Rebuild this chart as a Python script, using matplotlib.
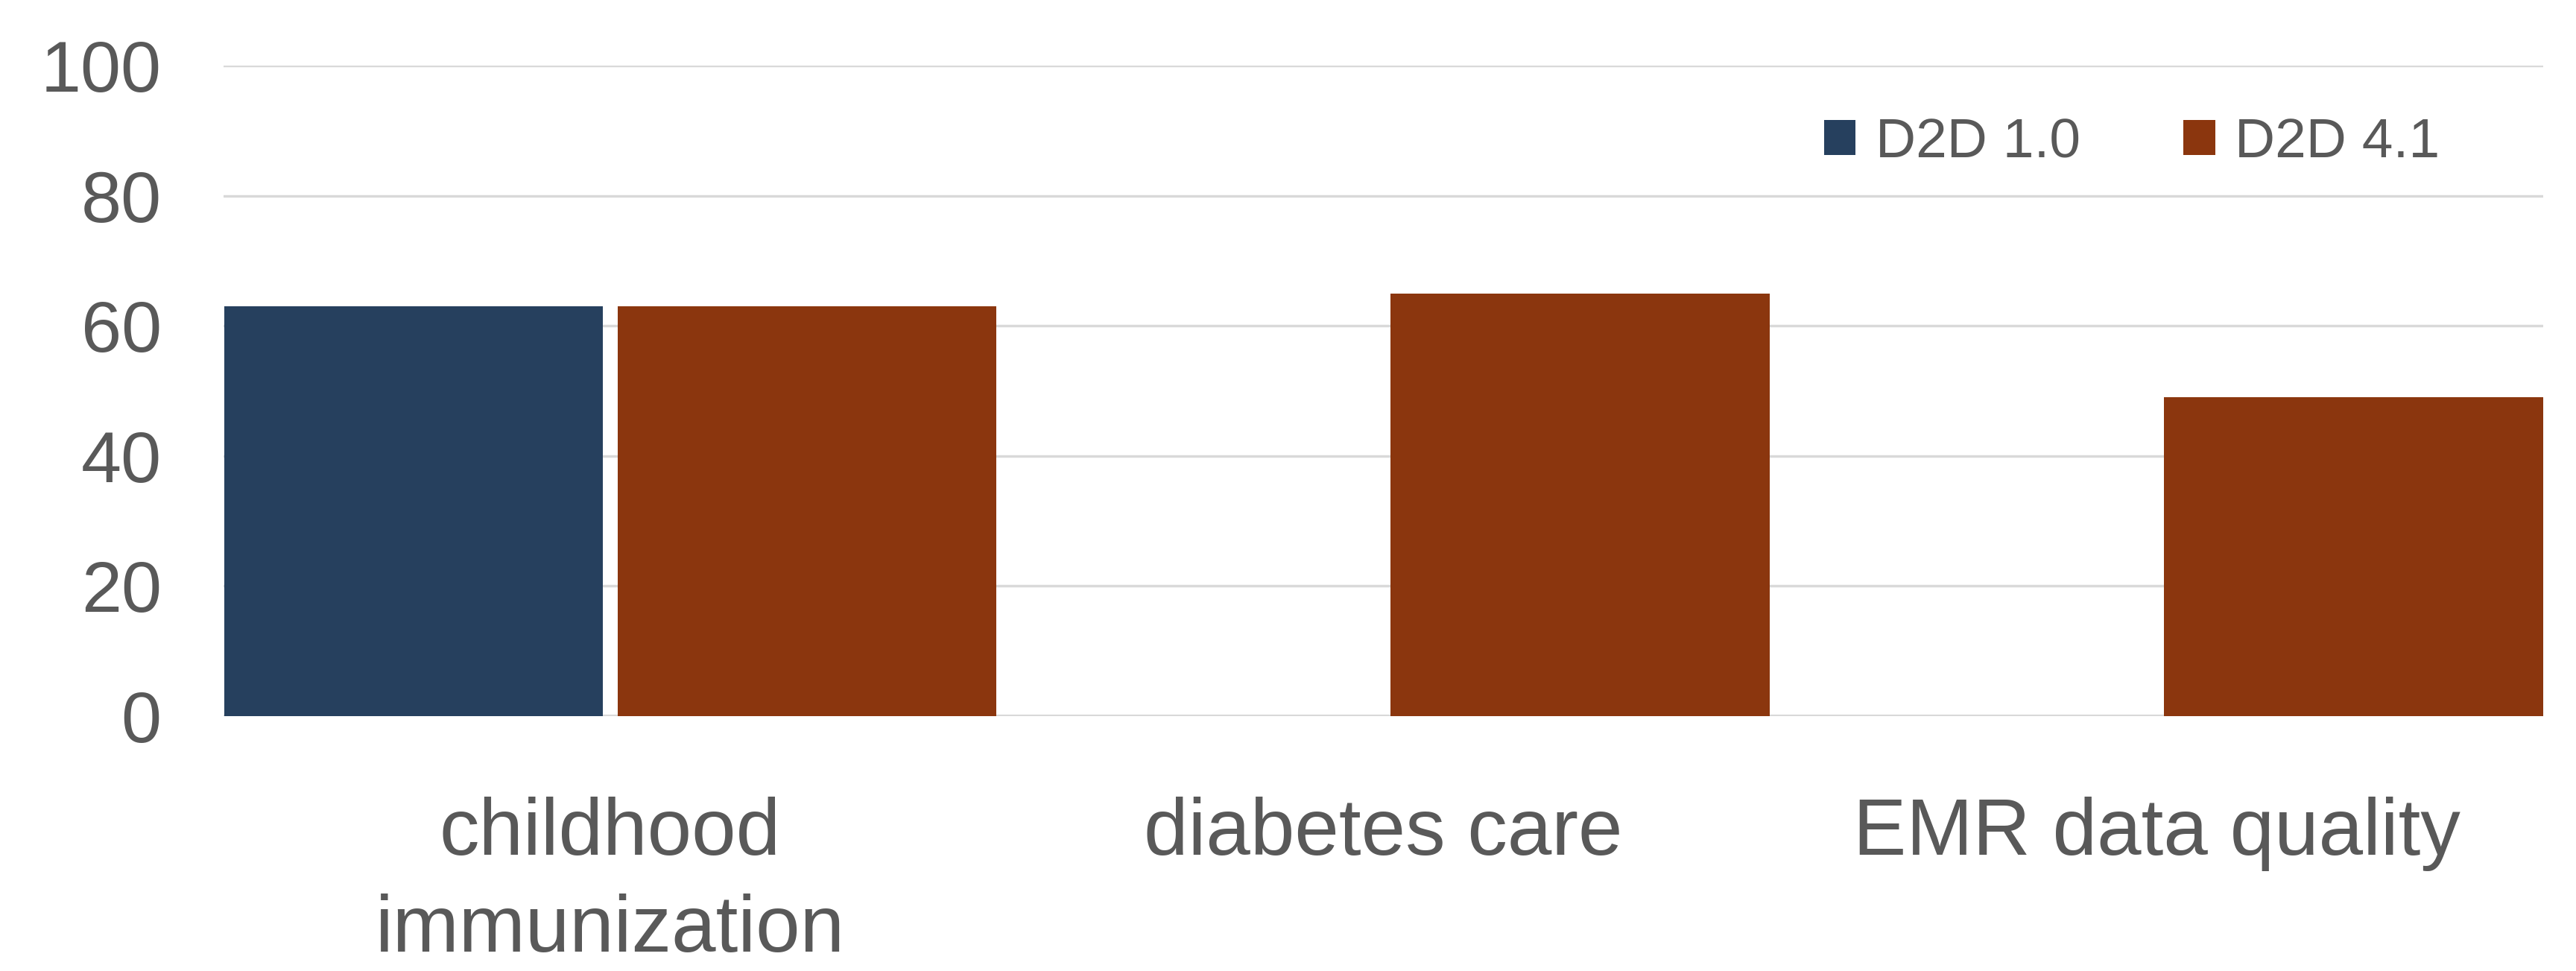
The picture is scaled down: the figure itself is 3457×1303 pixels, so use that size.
import numpy as np
import matplotlib.pyplot as plt
from matplotlib.patches import Patch

categories = ['childhood\nimmunization', 'diabetes care', 'EMR data quality']
series_names = ['D2D 1.0', 'D2D 4.1']
d2d_10 = [63, np.nan, np.nan]
d2d_41 = [63, 65, 49]
yticks = [0, 20, 40, 60, 80, 100]

colors = ['#26405E', '#8B360E']
text_color = '#595959'
grid_color = '#D9D9D9'

plt.rcParams['font.family'] = ['Liberation Sans Narrow', 'Liberation Sans', 'DejaVu Sans']

fig = plt.figure(figsize=(34.57, 13.03), dpi=100)
ax = fig.add_axes([0.0868, 0.2625, 0.9005, 0.67])

x = np.arange(len(categories))
width = 0.49
offset = 0.2545
ax.bar(x - offset, d2d_10, width, color=colors[0], zorder=3)
ax.bar(x + offset, d2d_41, width, color=colors[1], zorder=3)

ax.set_xlim(-0.5, len(categories) - 0.5)
ax.set_ylim(0, 100)
ax.set_yticks(yticks)
ax.set_yticklabels([str(v) for v in yticks])
ax.set_xticks(x)
ax.set_xticklabels(categories, linespacing=1.38)

ax.yaxis.grid(True, color=grid_color, linewidth=2.5, zorder=0)
ax.set_axisbelow(True)
for s in ax.spines.values():
    s.set_visible(False)
ax.axhline(0, color=grid_color, linewidth=3, zorder=2)

ax.tick_params(axis='y', length=0, pad=60, labelsize=70, labelcolor=text_color)
ax.tick_params(axis='x', length=0, pad=78, labelsize=77, labelcolor=text_color)

# legend in the upper right, inside the plot area
handles = [Patch(facecolor=c, edgecolor='none') for c in colors]
fig.legend(handles, series_names, loc='center left', bbox_to_anchor=(0.708, 0.853),
           ncol=2, frameon=False, borderaxespad=0, borderpad=0,
           fontsize=54, labelcolor=text_color, handlelength=0.57, handleheight=0.57,
           handletextpad=0.35, columnspacing=1.85)

fig.savefig('out.png', dpi=100, facecolor='white')
